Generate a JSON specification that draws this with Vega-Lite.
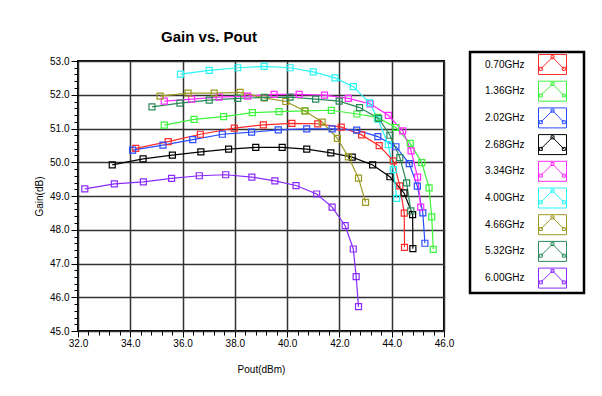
{
 "$schema": "https://vega.github.io/schema/vega-lite/v6.json",
 "width": 366,
 "height": 270,
 "autosize": {"type": "none"},
 "padding": {"left": 78, "top": 61, "right": 158, "bottom": 65},
 "background": "white",
 "title": {"text": "Gain vs. Pout", "font": "Liberation Sans", "fontSize": 15, "fontWeight": "bold", "anchor": "middle", "dx": -52, "offset": 6, "color": "black"},
 "data": {"values": [
  {"freq": "0.70GHz", "pout": 34.21, "gain": 50.41},
  {"freq": "0.70GHz", "pout": 35.45, "gain": 50.61},
  {"freq": "0.70GHz", "pout": 36.68, "gain": 50.83},
  {"freq": "0.70GHz", "pout": 37.98, "gain": 51.01},
  {"freq": "0.70GHz", "pout": 39.09, "gain": 51.11},
  {"freq": "0.70GHz", "pout": 40.18, "gain": 51.15},
  {"freq": "0.70GHz", "pout": 41.17, "gain": 51.14},
  {"freq": "0.70GHz", "pout": 42.07, "gain": 51.04},
  {"freq": "0.70GHz", "pout": 42.85, "gain": 50.81},
  {"freq": "0.70GHz", "pout": 43.52, "gain": 50.49},
  {"freq": "0.70GHz", "pout": 44.06, "gain": 50.04},
  {"freq": "0.70GHz", "pout": 44.31, "gain": 49.30},
  {"freq": "0.70GHz", "pout": 44.48, "gain": 48.49},
  {"freq": "0.70GHz", "pout": 44.49, "gain": 47.48},
  {"freq": "1.36GHz", "pout": 35.30, "gain": 51.10},
  {"freq": "1.36GHz", "pout": 36.44, "gain": 51.27},
  {"freq": "1.36GHz", "pout": 37.57, "gain": 51.35},
  {"freq": "1.36GHz", "pout": 38.67, "gain": 51.47},
  {"freq": "1.36GHz", "pout": 39.69, "gain": 51.50},
  {"freq": "1.36GHz", "pout": 40.68, "gain": 51.52},
  {"freq": "1.36GHz", "pout": 41.69, "gain": 51.54},
  {"freq": "1.36GHz", "pout": 42.67, "gain": 51.43},
  {"freq": "1.36GHz", "pout": 43.45, "gain": 51.33},
  {"freq": "1.36GHz", "pout": 44.16, "gain": 51.03},
  {"freq": "1.36GHz", "pout": 44.71, "gain": 50.56},
  {"freq": "1.36GHz", "pout": 45.15, "gain": 49.99},
  {"freq": "1.36GHz", "pout": 45.43, "gain": 49.24},
  {"freq": "1.36GHz", "pout": 45.53, "gain": 48.38},
  {"freq": "1.36GHz", "pout": 45.59, "gain": 47.42},
  {"freq": "2.02GHz", "pout": 34.09, "gain": 50.36},
  {"freq": "2.02GHz", "pout": 35.25, "gain": 50.51},
  {"freq": "2.02GHz", "pout": 36.39, "gain": 50.67},
  {"freq": "2.02GHz", "pout": 37.52, "gain": 50.83},
  {"freq": "2.02GHz", "pout": 38.64, "gain": 50.89},
  {"freq": "2.02GHz", "pout": 39.66, "gain": 50.96},
  {"freq": "2.02GHz", "pout": 40.75, "gain": 50.99},
  {"freq": "2.02GHz", "pout": 41.72, "gain": 50.99},
  {"freq": "2.02GHz", "pout": 42.66, "gain": 50.95},
  {"freq": "2.02GHz", "pout": 43.47, "gain": 50.76},
  {"freq": "2.02GHz", "pout": 44.16, "gain": 50.46},
  {"freq": "2.02GHz", "pout": 44.67, "gain": 49.96},
  {"freq": "2.02GHz", "pout": 44.98, "gain": 49.29},
  {"freq": "2.02GHz", "pout": 45.19, "gain": 48.50},
  {"freq": "2.02GHz", "pout": 45.27, "gain": 47.60},
  {"freq": "2.68GHz", "pout": 33.31, "gain": 49.92},
  {"freq": "2.68GHz", "pout": 34.49, "gain": 50.10},
  {"freq": "2.68GHz", "pout": 35.61, "gain": 50.21},
  {"freq": "2.68GHz", "pout": 36.70, "gain": 50.31},
  {"freq": "2.68GHz", "pout": 37.76, "gain": 50.39},
  {"freq": "2.68GHz", "pout": 38.80, "gain": 50.44},
  {"freq": "2.68GHz", "pout": 39.81, "gain": 50.44},
  {"freq": "2.68GHz", "pout": 40.75, "gain": 50.39},
  {"freq": "2.68GHz", "pout": 41.67, "gain": 50.28},
  {"freq": "2.68GHz", "pout": 42.49, "gain": 50.15},
  {"freq": "2.68GHz", "pout": 43.27, "gain": 49.92},
  {"freq": "2.68GHz", "pout": 43.93, "gain": 49.57},
  {"freq": "2.68GHz", "pout": 44.47, "gain": 49.09},
  {"freq": "2.68GHz", "pout": 44.80, "gain": 48.45},
  {"freq": "2.68GHz", "pout": 44.81, "gain": 47.44},
  {"freq": "3.34GHz", "pout": 35.30, "gain": 51.81},
  {"freq": "3.34GHz", "pout": 36.35, "gain": 51.87},
  {"freq": "3.34GHz", "pout": 37.40, "gain": 51.93},
  {"freq": "3.34GHz", "pout": 38.49, "gain": 51.96},
  {"freq": "3.34GHz", "pout": 39.50, "gain": 52.01},
  {"freq": "3.34GHz", "pout": 40.46, "gain": 52.01},
  {"freq": "3.34GHz", "pout": 41.43, "gain": 51.99},
  {"freq": "3.34GHz", "pout": 42.34, "gain": 51.89},
  {"freq": "3.34GHz", "pout": 43.18, "gain": 51.73},
  {"freq": "3.34GHz", "pout": 43.87, "gain": 51.39},
  {"freq": "3.34GHz", "pout": 44.42, "gain": 50.93},
  {"freq": "3.34GHz", "pout": 44.74, "gain": 50.34},
  {"freq": "3.34GHz", "pout": 44.99, "gain": 49.56},
  {"freq": "3.34GHz", "pout": 45.11, "gain": 48.67},
  {"freq": "4.00GHz", "pout": 35.92, "gain": 52.61},
  {"freq": "4.00GHz", "pout": 37.02, "gain": 52.72},
  {"freq": "4.00GHz", "pout": 38.11, "gain": 52.80},
  {"freq": "4.00GHz", "pout": 39.12, "gain": 52.84},
  {"freq": "4.00GHz", "pout": 40.11, "gain": 52.80},
  {"freq": "4.00GHz", "pout": 41.00, "gain": 52.68},
  {"freq": "4.00GHz", "pout": 41.83, "gain": 52.50},
  {"freq": "4.00GHz", "pout": 42.53, "gain": 52.24},
  {"freq": "4.00GHz", "pout": 43.15, "gain": 51.76},
  {"freq": "4.00GHz", "pout": 43.47, "gain": 51.28},
  {"freq": "4.00GHz", "pout": 43.87, "gain": 50.52},
  {"freq": "4.00GHz", "pout": 44.06, "gain": 49.78},
  {"freq": "4.00GHz", "pout": 44.19, "gain": 48.93},
  {"freq": "4.66GHz", "pout": 35.14, "gain": 51.96},
  {"freq": "4.66GHz", "pout": 36.21, "gain": 52.05},
  {"freq": "4.66GHz", "pout": 37.21, "gain": 52.05},
  {"freq": "4.66GHz", "pout": 38.20, "gain": 52.07},
  {"freq": "4.66GHz", "pout": 39.12, "gain": 51.91},
  {"freq": "4.66GHz", "pout": 39.95, "gain": 51.80},
  {"freq": "4.66GHz", "pout": 40.68, "gain": 51.52},
  {"freq": "4.66GHz", "pout": 41.34, "gain": 51.19},
  {"freq": "4.66GHz", "pout": 41.92, "gain": 50.71},
  {"freq": "4.66GHz", "pout": 42.34, "gain": 50.16},
  {"freq": "4.66GHz", "pout": 42.73, "gain": 49.53},
  {"freq": "4.66GHz", "pout": 43.00, "gain": 48.81},
  {"freq": "5.32GHz", "pout": 34.83, "gain": 51.64},
  {"freq": "5.32GHz", "pout": 35.90, "gain": 51.75},
  {"freq": "5.32GHz", "pout": 37.02, "gain": 51.84},
  {"freq": "5.32GHz", "pout": 38.11, "gain": 51.89},
  {"freq": "5.32GHz", "pout": 39.13, "gain": 51.92},
  {"freq": "5.32GHz", "pout": 40.11, "gain": 51.93},
  {"freq": "5.32GHz", "pout": 41.09, "gain": 51.87},
  {"freq": "5.32GHz", "pout": 41.99, "gain": 51.81},
  {"freq": "5.32GHz", "pout": 42.77, "gain": 51.62},
  {"freq": "5.32GHz", "pout": 43.50, "gain": 51.30},
  {"freq": "5.32GHz", "pout": 43.93, "gain": 50.80},
  {"freq": "5.32GHz", "pout": 44.31, "gain": 50.14},
  {"freq": "5.32GHz", "pout": 44.57, "gain": 49.39},
  {"freq": "5.32GHz", "pout": 44.73, "gain": 48.56},
  {"freq": "6.00GHz", "pout": 32.26, "gain": 49.21},
  {"freq": "6.00GHz", "pout": 33.39, "gain": 49.36},
  {"freq": "6.00GHz", "pout": 34.50, "gain": 49.42},
  {"freq": "6.00GHz", "pout": 35.58, "gain": 49.52},
  {"freq": "6.00GHz", "pout": 36.64, "gain": 49.60},
  {"freq": "6.00GHz", "pout": 37.65, "gain": 49.63},
  {"freq": "6.00GHz", "pout": 38.65, "gain": 49.56},
  {"freq": "6.00GHz", "pout": 39.53, "gain": 49.45},
  {"freq": "6.00GHz", "pout": 40.34, "gain": 49.31},
  {"freq": "6.00GHz", "pout": 41.13, "gain": 49.06},
  {"freq": "6.00GHz", "pout": 41.72, "gain": 48.67},
  {"freq": "6.00GHz", "pout": 42.22, "gain": 48.12},
  {"freq": "6.00GHz", "pout": 42.53, "gain": 47.43},
  {"freq": "6.00GHz", "pout": 42.64, "gain": 46.61},
  {"freq": "6.00GHz", "pout": 42.73, "gain": 45.72}
 ]},
 "config": {
  "view": {"stroke": "black", "strokeWidth": 2},
  "axis": {"domain": false, "tickColor": "black", "tickWidth": 1, "labelFont": "Liberation Sans", "labelFontSize": 10, "labelColor": "black", "titleFont": "Liberation Sans", "titleFontSize": 10, "titleFontWeight": "normal", "titleColor": "black", "labelFlush": false, "labelOverlap": false, "gridColor": "#333333", "gridWidth": 1.5, "gridOpacity": 1},
  "legend": {"strokeWidth": 2.5}
 },
 "layer": [
  {
   "mark": {"type": "line", "strokeWidth": 1.2},
   "encoding": {
    "x": {"field": "pout", "type": "quantitative", "scale": {"domain": [32, 46], "nice": false, "zero": false},
          "axis": {"orient": "bottom", "values": [32, 34, 36, 38, 40, 42, 44, 46], "format": ".1f", "title": "Pout(dBm)", "grid": true, "tickSize": 6, "labelPadding": 1, "titlePadding": 16}},
    "y": {"field": "gain", "type": "quantitative", "scale": {"domain": [45, 53], "nice": false, "zero": false},
          "axis": {"orient": "left", "values": [45, 46, 47, 48, 49, 50, 51, 52, 53], "format": ".1f", "title": "Gain(dB)", "grid": true, "tickSize": 7, "labelPadding": 2, "titlePadding": 5}},
    "color": {"field": "freq", "type": "nominal",
              "scale": {"domain": ["0.70GHz", "1.36GHz", "2.02GHz", "2.68GHz", "3.34GHz", "4.00GHz", "4.66GHz", "5.32GHz", "6.00GHz"],
                        "range": ["#ff2a2a", "#3cf53c", "#2a4cff", "#000000", "#ff2aff", "#2af5f5", "#9c9a22", "#2a8a5a", "#8a2aff"]},
              "legend": {"orient": "none", "legendX": 392, "legendY": -9, "title": null,
                         "strokeColor": "black", "fillColor": "white", "padding": 2,
                         "symbolType": "M-1.4,-1H1.4V1H-1.4Z M-1.17,0.43L0,-0.73L1.13,0.43 M-1.32,0.28h0.3v0.3h-0.3Z M-0.15,-0.88h0.3v0.3h-0.3Z M0.98,0.28h0.3v0.3h-0.3Z M2.7,0",
                         "symbolSize": 400, "symbolStrokeWidth": 1, "symbolOffset": 70, "labelOffset": -78,
                         "labelFont": "Liberation Sans", "labelFontSize": 10, "labelColor": "black", "labelLimit": 200, "rowPadding": 1.7}}
   }
  },
  {
   "mark": {"type": "point", "shape": "square", "size": 36, "strokeWidth": 1.2, "filled": false, "opacity": 1},
   "encoding": {
    "x": {"field": "pout", "type": "quantitative",
          "axis": {"orient": "bottom", "values": [32.4, 32.8, 33.2, 33.6, 34.4, 34.8, 35.2, 35.6, 36.4, 36.8, 37.2, 37.6, 38.4, 38.8, 39.2, 39.6, 40.4, 40.8, 41.2, 41.6, 42.4, 42.8, 43.2, 43.6, 44.4, 44.8, 45.2, 45.6], "grid": false, "labels": false, "title": null, "tickSize": 4}},
    "y": {"field": "gain", "type": "quantitative",
          "axis": {"orient": "left", "values": [45.2, 45.4, 45.6, 45.8, 46.2, 46.4, 46.6, 46.8, 47.2, 47.4, 47.6, 47.8, 48.2, 48.4, 48.6, 48.8, 49.2, 49.4, 49.6, 49.8, 50.2, 50.4, 50.6, 50.8, 51.2, 51.4, 51.6, 51.8, 52.2, 52.4, 52.6, 52.8], "grid": false, "labels": false, "title": null, "tickSize": 4}},
    "color": {"field": "freq", "type": "nominal"}
   }
  }
 ],
 "resolve": {"axis": {"x": "independent", "y": "independent"}}
}
